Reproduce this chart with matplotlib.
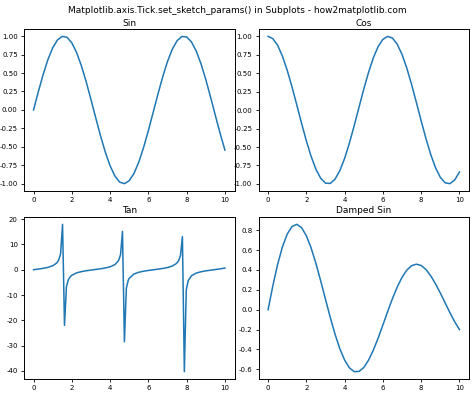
import numpy as np
import matplotlib
matplotlib.use('Agg')
import matplotlib.pyplot as plt

x_smooth = [0.00, 0.25, 0.50, 0.75, 1.00, 1.25, 1.50, 1.75, 2.00, 2.25,
            2.50, 2.75, 3.00, 3.25, 3.50, 3.75, 4.00, 4.25, 4.50, 4.75,
            5.00, 5.25, 5.50, 5.75, 6.00, 6.25, 6.50, 6.75, 7.00, 7.25,
            7.50, 7.75, 8.00, 8.25, 8.50, 8.75, 9.00, 9.25, 9.50, 9.75, 10.00]

sin_y = [0.000, 0.247, 0.479, 0.682, 0.841, 0.949, 0.997, 0.984, 0.909, 0.778,
         0.598, 0.382, 0.141, -0.108, -0.351, -0.572, -0.757, -0.895, -0.978, -0.999,
         -0.959, -0.859, -0.706, -0.508, -0.279, -0.033, 0.215, 0.450, 0.657, 0.823,
         0.938, 0.995, 0.989, 0.922, 0.798, 0.625, 0.412, 0.173, -0.075, -0.320, -0.544]

cos_y = [1.000, 0.969, 0.878, 0.732, 0.540, 0.315, 0.071, -0.178, -0.416, -0.628,
         -0.801, -0.924, -0.990, -0.994, -0.936, -0.820, -0.654, -0.446, -0.211, 0.038,
         0.284, 0.512, 0.709, 0.861, 0.960, 0.999, 0.977, 0.893, 0.754, 0.569,
         0.347, 0.104, -0.146, -0.386, -0.602, -0.781, -0.911, -0.985, -0.997, -0.948, -0.839]

damped_y = [0.000, 0.241, 0.456, 0.632, 0.761, 0.837, 0.859, 0.826, 0.744, 0.621,
            0.466, 0.290, 0.105, -0.078, -0.247, -0.393, -0.507, -0.585, -0.623, -0.621,
            -0.582, -0.508, -0.407, -0.286, -0.153, -0.018, 0.112, 0.229, 0.326, 0.398,
            0.443, 0.458, 0.445, 0.404, 0.341, 0.260, 0.168, 0.069, -0.029, -0.121, -0.200]

# tan is sampled more densely around the spikes
tan_x = [0.00, 0.25, 0.50, 0.75, 1.00, 1.2121, 1.3131, 1.4141, 1.5152, 1.6162,
         1.7172, 1.8182, 1.9192, 2.00, 2.25, 2.50, 2.75, 3.00, 3.25, 3.50,
         3.75, 4.00, 4.25, 4.4444, 4.5455, 4.6465, 4.7475, 4.8485, 4.9495, 5.00,
         5.25, 5.50, 5.75, 6.00, 6.25, 6.50, 6.75, 7.00, 7.25, 7.4747,
         7.5758, 7.6768, 7.7778, 7.8788, 7.9798, 8.0808, 8.25, 8.50, 8.75, 9.00,
         9.25, 9.50, 9.75, 10.00]
tan_y = [0.000, 0.255, 0.546, 0.932, 1.557, 2.669, 3.795, 6.331, 17.95, -22.03,
         -6.783, -3.959, -2.755, -2.185, -1.239, -0.747, -0.413, -0.143, 0.109, 0.375,
         0.697, 1.158, 2.007, 3.643, 5.934, 15.14, -28.50, -7.303, -4.138, -3.381,
         -1.677, -0.996, -0.590, -0.291, -0.033, 0.220, 0.504, 0.871, 1.446, 2.508,
         3.501, 5.584, 13.10, -40.30, -7.906, -4.333, -2.392, -1.327, -0.800, -0.452,
         -0.176, 0.075, 0.337, 0.648]

titles = ['Sin', 'Cos', 'Tan', 'Damped Sin']

plt.rcParams['font.size'] = 6
plt.rcParams['axes.unicode_minus'] = False

fig, axs = plt.subplots(2, 2, figsize=(4.74, 3.95), dpi=100)
fig.suptitle('Matplotlib.axis.Tick.set_sketch_params() in Subplots - how2matplotlib.com',
             fontsize=6.5, y=0.985)

series = [(x_smooth, sin_y), (x_smooth, cos_y), (tan_x, tan_y), (x_smooth, damped_y)]
for ax, (xs, ys), title in zip(axs.flat, series, titles):
    ax.plot(xs, ys, color='#1f77b4', linewidth=1.1)
    ax.set_title(title, fontsize=6.5, pad=2.5)
    ax.tick_params(labelsize=5, length=2.5, pad=2, width=0.6)
    for s in ax.spines.values():
        s.set_linewidth(0.7)

axs[0, 0].set_yticks([-1.0, -0.75, -0.5, -0.25, 0.0, 0.25, 0.5, 0.75, 1.0])
axs[0, 1].set_yticks([-1.0, -0.75, -0.5, -0.25, 0.0, 0.25, 0.5, 0.75, 1.0])

fig.subplots_adjust(left=0.0506, right=0.9895, top=0.9266, bottom=0.0405,
                    wspace=0.114, hspace=0.16)
fig.savefig('out.png')
